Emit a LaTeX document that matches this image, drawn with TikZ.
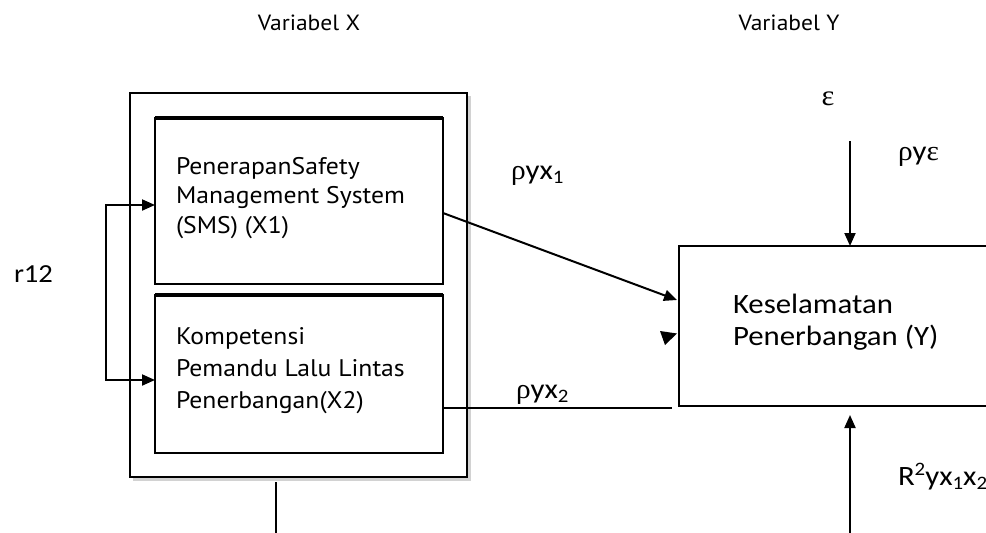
\documentclass[tikz,border=0pt]{standalone}
\usepackage{fontspec}
\setmainfont[FakeStretch=1.1]{Carlito}
\newfontfamily\myr[FakeStretch=1.07]{PT Sans}
\newfontfamily\grk[FakeStretch=1.05]{Liberation Serif}
\usetikzlibrary{arrows.meta,calc}
\newcommand{\lo}[1]{\raisebox{-4pt}{\fontsize{19}{19}\selectfont #1}}
\newcommand{\hi}[1]{\raisebox{10pt}{\fontsize{19}{19}\selectfont #1}}
\begin{document}
\begin{tikzpicture}[x=1pt,y=-1pt,line width=2pt,
  arr/.style={-{Triangle[length=13pt,width=11pt]}},
  barr/.style={{Triangle[length=13pt,width=11pt]}-{Triangle[length=13pt,width=11pt]}},
  boxs/.style={draw,inner sep=0pt,outer sep=0pt,anchor=north west},
  btxt/.style={inner sep=0pt,anchor=base west,align=left},
  ytxt/.style={inner sep=0pt,anchor=base west,align=left,font=\fontsize{28}{32}\selectfont},
  lbl/.style={inner sep=0pt,anchor=base west,font=\fontsize{28}{30}\selectfont},
  head/.style={inner sep=0pt,anchor=base,font=\myr\fontsize{22}{24}\selectfont}]
\useasboundingbox (0,0) rectangle (986,533);
\clip (0,0) rectangle (986,533);
% headings
\node[head] (hx) at (309,30) {Variabel X};
\node[head] (hy) at (789,30) {Variabel Y};
% outer box with faint shadow
\draw[gray!35,line width=2.5pt] (133,479.5) -- (469.5,479.5) -- (469.5,96);
\node[boxs,minimum width=337pt,minimum height=384pt] (outer) at (130,93) {};
% inner boxes
\node[boxs,line width=2.5pt,minimum width=288pt,minimum height=166pt] (X1) at (155,118) {};
\draw[line width=4pt] (X1.north west) -- (X1.north east);
\node[boxs,line width=2.5pt,minimum width=288pt,minimum height=158pt] (X2) at (155,295) {};
\draw[line width=4pt] (X2.north west) -- (X2.north east);
\node[btxt,font=\myr\fontsize{24}{29.5}\selectfont] (t1) at (175,233) {PenerapanSafety\\Management System\\(SMS) (X1)};
\node[btxt,font=\myr\fontsize{24}{32}\selectfont] (t2) at (175,408) {Kompetensi\\Pemandu Lalu Lintas\\Penerbangan(X2)};
% Y box (right side runs off the page)
\node[boxs,line width=1.8pt,minimum width=320pt,minimum height=160pt] (Y) at (679,246) {};
\node[ytxt] (ty) at (732,345) {Keselamatan\\Penerbangan (Y)};
% correlation bracket
\coordinate (b1) at (106,205);
\coordinate (b2) at (106,380);
\draw[barr] (b1 -| X1.west) -- (b1) -- (b2) -- (b2 -| X2.west);
\node[inner sep=0pt,anchor=base west,font=\fontsize{26}{30}\selectfont] (r12) at (13,282) {r12};
% paths
\coordinate (s1) at (443,213);
\coordinate (e1) at (677,300);
\draw[arr] (s1) -- (e1);
\coordinate (h1) at (660,331);
\coordinate (h2) at (677,333.5);
\coordinate (h3) at (665,345);
\fill (h1) -- (h2) -- (h3) -- cycle;
\coordinate (s2) at (443,408);
\coordinate (e2) at (672,408);
\draw (s2) -- (e2);
\node[lbl] (p1) at (510,179) {{\grk ρ}yx\lo{1}};
\node[lbl] (p2) at (515,398) {{\grk ρ}yx\lo{2}};
% epsilon
\node[inner sep=0pt,anchor=base,font=\grk\fontsize{29}{30}\selectfont] (eps) at (828,105) {ε};
\coordinate (s4) at (850,141);
\draw[arr] (s4) -- (s4 |- Y.north);
\node[lbl] (pe) at (897,160) {{\grk ρ}y{\grk ε}};
% R squared
\coordinate (s5) at (850,533);
\coordinate (e5) at (850,415);
\draw[arr] (s5) -- (e5);
\node[lbl] (r2) at (897,485) {R\hi{2}yx\lo{1}x\lo{2}};
% line below outer box
\coordinate (s6) at (276,482);
\coordinate (e6) at (276,533);
\draw (s6) -- (e6);
\end{tikzpicture}
\end{document}
